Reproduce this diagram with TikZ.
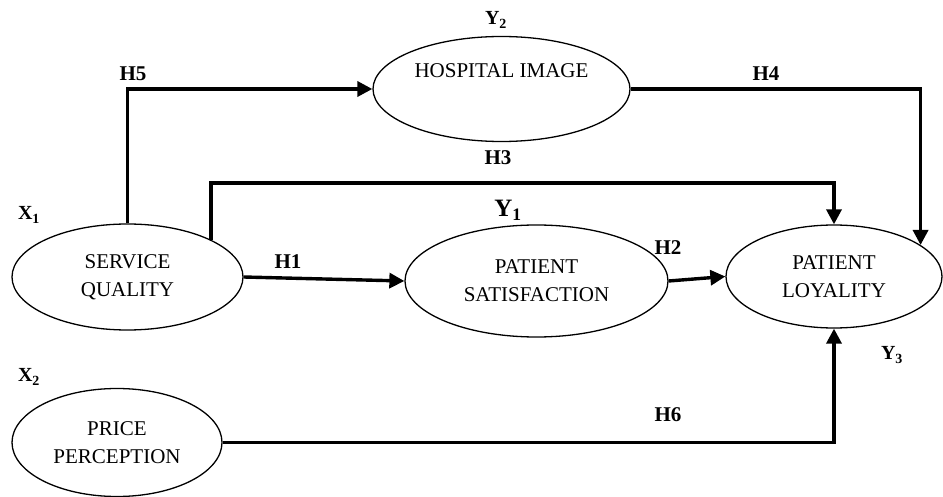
\documentclass[tikz,border=0pt]{standalone}
\usepackage{fontspec}
\setmainfont{Liberation Serif}
\usetikzlibrary{shapes.geometric,arrows.meta}
\begin{document}
\begin{tikzpicture}[x=1pt,y=-1pt,
  construct/.style={ellipse,draw,line width=1.3pt,inner sep=0pt,align=center,
    font=\fontsize{21}{28}\selectfont},
  path arrow/.style={line width=3.4pt,-{Triangle[length=15pt,width=15pt]}},
  hyp/.style={font=\fontsize{21}{25}\selectfont\bfseries,inner sep=0pt},
  var/.style={font=\fontsize{20}{24}\selectfont\bfseries,inner sep=0pt},
]
\useasboundingbox (0,0) rectangle (943,497);

% latent constructs
\node[construct,minimum width=257pt,minimum height=105pt] (hi)  at (501.5,89)  {HOSPITAL IMAGE\\\strut};
\node[construct,minimum width=231pt,minimum height=106pt] (sq)  at (127.5,277) {SERVICE\\QUALITY};
\node[construct,minimum width=263pt,minimum height=112pt] (sat) at (536.5,281) {PATIENT\\SATISFACTION};
\node[construct,minimum width=216pt,minimum height=103pt] (loy) at (834,276.5) {PATIENT\\LOYALITY};
\node[construct,minimum width=210pt,minimum height=108pt] (pp)  at (117,442.5) {PRICE\\PERCEPTION};

% bend points of the routed paths
\coordinate (h3) at (500,183);

% hypothesised paths
\draw[path arrow] (sq.north) |- (hi.west);
\draw[path arrow] (hi.east) -| (loy.20);
\draw[path arrow] (sq.24.6) |- (h3) -| (loy.north);
\draw[path arrow] (sq.east) -- (sat.west);
\draw[path arrow] (sat.east) -- (loy.west);
\draw[path arrow] (pp.east) -| (loy.south);

% hypothesis labels
\node[hyp] (lh5) at (133,74)  {H5};
\node[hyp] (lh4) at (766,74)  {H4};
\node[hyp] (lh3) at (498,158) {H3};
\node[hyp] (lh1) at (288,262) {H1};
\node[hyp] (lh2) at (668,248) {H2};
\node[hyp] (lh6) at (668,415) {H6};

% variable labels
\node[var] (vx1) at (29,215)  {X\textsubscript{1}};
\node[var] (vx2) at (29,377)  {X\textsubscript{2}};
\node[var] (vy2) at (496,20)  {Y\textsubscript{2}};
\node[var] (vy3) at (892,355) {Y\textsubscript{3}};
\node[var,font=\fontsize{25}{28}\selectfont\bfseries] (vy1) at (508,210) {Y\textsubscript{1}};
\end{tikzpicture}
\end{document}
